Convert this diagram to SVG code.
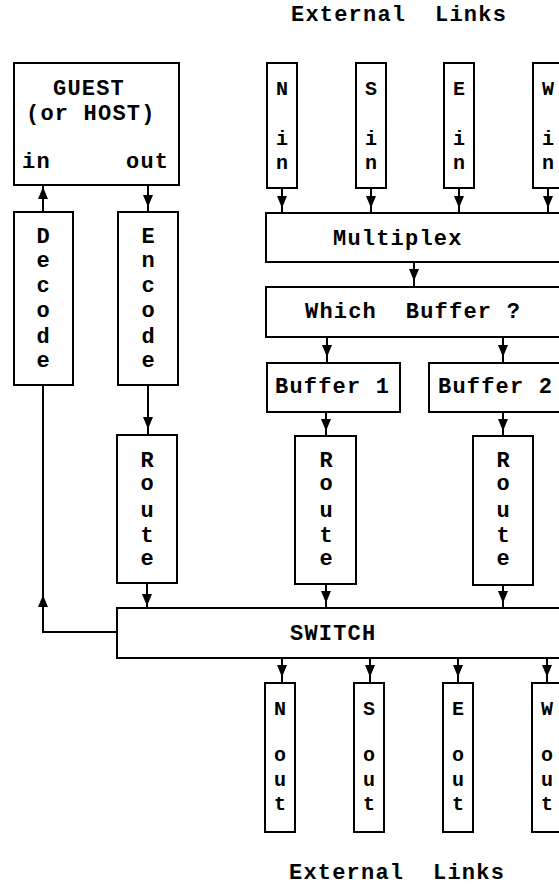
<svg xmlns="http://www.w3.org/2000/svg" xmlns:xlink="http://www.w3.org/1999/xlink" width="559" height="891" viewBox="0 0 559 891">
<style>
.box{fill:#fff;stroke:#000;stroke-width:2}
.ln{fill:none;stroke:#000;stroke-width:2}
.t{font-family:"Liberation Mono","Courier New",monospace;font-weight:bold;font-size:22px;letter-spacing:1.2px;fill:#000}
.v{font-family:"Liberation Mono","Courier New",monospace;font-weight:bold;font-size:22px;fill:#000;text-anchor:middle}
.vs{font-size:20px}
</style>
<defs>
<path id="ah" d="M-5,-12 L5,-12 L0,0 Z" fill="#000"/>
</defs>
<rect width="559" height="891" fill="#fff"/>
<text class="t" x="291" y="21" xml:space="preserve">External  Links</text>
<text class="t" x="289" y="879" xml:space="preserve">External  Links</text>

<g id="connectors">
<line class="ln" x1="282" y1="188" x2="282" y2="213"/><use xlink:href="#ah" x="282" y="208"/>
<line class="ln" x1="371" y1="188" x2="371" y2="213"/><use xlink:href="#ah" x="371" y="208"/>
<line class="ln" x1="459" y1="188" x2="459" y2="213"/><use xlink:href="#ah" x="459" y="208"/>
<line class="ln" x1="548" y1="188" x2="548" y2="213"/><use xlink:href="#ah" x="548" y="208"/>
<line class="ln" x1="414" y1="262" x2="414" y2="287"/><use xlink:href="#ah" x="414" y="281"/>
<line class="ln" x1="327" y1="337" x2="327" y2="363"/><use xlink:href="#ah" x="327" y="357"/>
<line class="ln" x1="503" y1="337" x2="503" y2="363"/><use xlink:href="#ah" x="503" y="357"/>
<line class="ln" x1="326" y1="412" x2="326" y2="436"/><use xlink:href="#ah" x="326" y="431"/>
<line class="ln" x1="503" y1="412" x2="503" y2="436"/><use xlink:href="#ah" x="503" y="431"/>
<line class="ln" x1="326" y1="584" x2="326" y2="608"/><use xlink:href="#ah" x="326" y="603"/>
<line class="ln" x1="503" y1="585" x2="503" y2="608"/><use xlink:href="#ah" x="503" y="603"/>
<line class="ln" x1="147" y1="583" x2="147" y2="608"/><use xlink:href="#ah" x="147" y="606"/>
<line class="ln" x1="148" y1="185" x2="148" y2="212"/><use xlink:href="#ah" x="148" y="207"/>
<line class="ln" x1="43" y1="212" x2="43" y2="185"/><use xlink:href="#ah" transform="translate(43,187) rotate(180)"/>
<line class="ln" x1="148" y1="385" x2="148" y2="435"/><use xlink:href="#ah" x="148" y="429"/>
<polyline class="ln" points="117,632 43,632 43,385"/><use xlink:href="#ah" transform="translate(43,595) rotate(180)"/>
<line class="ln" x1="282" y1="658" x2="282" y2="683"/><use xlink:href="#ah" x="282" y="677"/>
<line class="ln" x1="370" y1="658" x2="370" y2="683"/><use xlink:href="#ah" x="370" y="677"/>
<line class="ln" x1="458" y1="658" x2="458" y2="683"/><use xlink:href="#ah" x="458" y="677"/>
<line class="ln" x1="547" y1="658" x2="547" y2="683"/><use xlink:href="#ah" x="547" y="677"/>
</g>

<g id="guest">
<rect class="box" x="14" y="63" width="165" height="122"/>
<text class="t" x="53" y="95">GUEST</text>
<text class="t" x="26" y="120">(or HOST)</text>
<text class="t" x="22" y="168">in</text>
<text class="t" x="126" y="168">out</text>
</g>

<g id="n-in"><rect class="box" x="267" y="63" width="30" height="125"/>
<text class="v vs"><tspan x="282" y="95">N</tspan><tspan x="282" y="145">i</tspan><tspan x="282" y="169">n</tspan></text></g>
<g id="s-in"><rect class="box" x="356" y="63" width="30" height="125"/>
<text class="v vs"><tspan x="371" y="95">S</tspan><tspan x="371" y="145">i</tspan><tspan x="371" y="169">n</tspan></text></g>
<g id="e-in"><rect class="box" x="444" y="63" width="30" height="125"/>
<text class="v vs"><tspan x="459" y="95">E</tspan><tspan x="459" y="145">i</tspan><tspan x="459" y="169">n</tspan></text></g>
<g id="w-in"><rect class="box" x="533" y="63" width="30" height="125"/>
<text class="v vs"><tspan x="548" y="95">W</tspan><tspan x="548" y="145">i</tspan><tspan x="548" y="169">n</tspan></text></g>

<g id="multiplex"><rect class="box" x="266" y="213" width="320" height="49"/>
<text class="t" x="333" y="245">Multiplex</text></g>
<g id="which-buffer"><rect class="box" x="266" y="287" width="320" height="50"/>
<text class="t" x="305" y="318" xml:space="preserve">Which  Buffer ?</text></g>
<g id="buffer1"><rect class="box" x="267" y="363" width="133" height="49"/>
<text class="t" x="275" y="393">Buffer 1</text></g>
<g id="buffer2"><rect class="box" x="429" y="363" width="160" height="49"/>
<text class="t" x="438" y="393">Buffer 2</text></g>

<g id="decode"><rect class="box" x="14" y="212" width="59" height="173"/>
<text class="v"><tspan x="43" y="243">D</tspan><tspan x="43" y="267">e</tspan><tspan x="43" y="292">c</tspan><tspan x="43" y="317">o</tspan><tspan x="43" y="343">d</tspan><tspan x="43" y="367">e</tspan></text></g>
<g id="encode"><rect class="box" x="118" y="212" width="60" height="173"/>
<text class="v"><tspan x="148" y="243">E</tspan><tspan x="148" y="267">n</tspan><tspan x="148" y="292">c</tspan><tspan x="148" y="317">o</tspan><tspan x="148" y="343">d</tspan><tspan x="148" y="367">e</tspan></text></g>

<g id="route-left"><rect class="box" x="117" y="435" width="60" height="148"/>
<text class="v"><tspan x="147" y="467">R</tspan><tspan x="147" y="490">o</tspan><tspan x="147" y="517">u</tspan><tspan x="147" y="542">t</tspan><tspan x="147" y="565">e</tspan></text></g>
<g id="route-mid"><rect class="box" x="295" y="436" width="61" height="148"/>
<text class="v"><tspan x="326" y="467">R</tspan><tspan x="326" y="490">o</tspan><tspan x="326" y="517">u</tspan><tspan x="326" y="542">t</tspan><tspan x="326" y="565">e</tspan></text></g>
<g id="route-right"><rect class="box" x="473" y="436" width="60" height="149"/>
<text class="v"><tspan x="503" y="467">R</tspan><tspan x="503" y="490">o</tspan><tspan x="503" y="517">u</tspan><tspan x="503" y="542">t</tspan><tspan x="503" y="565">e</tspan></text></g>

<g id="switch"><rect class="box" x="117" y="608" width="470" height="50"/>
<text class="t" x="290" y="640">SWITCH</text></g>

<g id="n-out"><rect class="box" x="265" y="683" width="30" height="149"/>
<text class="v vs"><tspan x="280" y="715">N</tspan><tspan x="280" y="761">o</tspan><tspan x="280" y="786">u</tspan><tspan x="280" y="810">t</tspan></text></g>
<g id="s-out"><rect class="box" x="354" y="683" width="30" height="149"/>
<text class="v vs"><tspan x="369" y="715">S</tspan><tspan x="369" y="761">o</tspan><tspan x="369" y="786">u</tspan><tspan x="369" y="810">t</tspan></text></g>
<g id="e-out"><rect class="box" x="443" y="683" width="30" height="149"/>
<text class="v vs"><tspan x="458" y="715">E</tspan><tspan x="458" y="761">o</tspan><tspan x="458" y="786">u</tspan><tspan x="458" y="810">t</tspan></text></g>
<g id="w-out"><rect class="box" x="532" y="683" width="30" height="149"/>
<text class="v vs"><tspan x="547" y="715">W</tspan><tspan x="547" y="761">o</tspan><tspan x="547" y="786">u</tspan><tspan x="547" y="810">t</tspan></text></g>
</svg>
